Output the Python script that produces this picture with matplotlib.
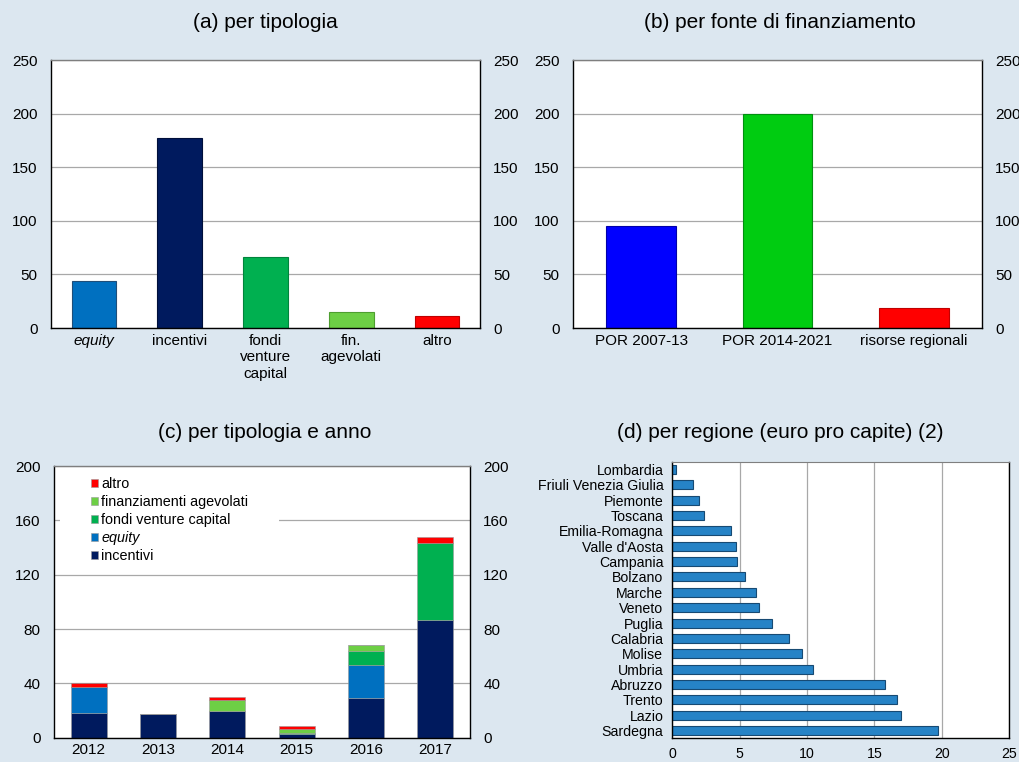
import matplotlib
matplotlib.use("Agg")
import matplotlib.pyplot as plt
from matplotlib.patches import Rectangle
import numpy as np

plt.rcParams['font.family'] = ['Liberation Sans', 'DejaVu Sans']

# ---------------- data ----------------
tipologia_labels = ['equity', 'incentivi', 'fondi\nventure\ncapital', 'fin.\nagevolati', 'altro']
tipologia_values = [43.5, 177, 66, 15, 11]

fonte_labels = ['POR 2007-13', 'POR 2014-2021', 'risorse regionali']
fonte_values = [95, 200, 18.5]

anni = ['2012', '2013', '2014', '2015', '2016', '2017']
incentivi = [18, 17.5, 20, 3, 29.5, 87]
equity = [19, 0, 0, 0, 24, 0]
fondi_vc = [0, 0, 0, 0.7, 10.5, 56]
fin_agevolati = [0, 0, 7.8, 3.0, 4.4, 0]
altro = [3.2, 0, 1.9, 2.2, 0, 4.6]

regioni = ['Lombardia', 'Friuli Venezia Giulia', 'Piemonte', 'Toscana', 'Emilia-Romagna',
           "Valle d'Aosta", 'Campania', 'Bolzano', 'Marche', 'Veneto', 'Puglia', 'Calabria',
           'Molise', 'Umbria', 'Abruzzo', 'Trento', 'Lazio', 'Sardegna']
regioni_values = [0.3, 1.5, 2.0, 2.33, 4.33, 4.7, 4.78, 5.42, 6.19, 6.43, 7.37, 8.68,
                  9.62, 10.46, 15.75, 16.64, 17.0, 19.69]

# ---------------- style ----------------
BG = '#DCE7F0'
NAVY = '#001A5E'
BLUE = '#0070C0'
GREEN = '#00B050'
LGREEN = '#6DCF45'
RED = '#FF0000'
GRID = '#A8A8A8'

fig = plt.figure(figsize=(10.2, 7.62), dpi=100, facecolor=BG)


def style_axes(ax, pad_y=9.5, fs=11):
    ax.set_facecolor('white')
    for s in ['left', 'bottom', 'right']:
        ax.spines[s].set_color('black')
        ax.spines[s].set_linewidth(1.0)
    ax.spines['top'].set_color('#7F7F7F')
    ax.spines['top'].set_linewidth(1.0)
    ax.set_axisbelow(True)
    ax.yaxis.grid(True, color=GRID, linewidth=0.9)
    ax.tick_params(axis='y', which='both', length=0, left=False, right=False,
                   labelleft=True, labelright=True, labelsize=fs, pad=pad_y)
    ax.tick_params(axis='x', length=0, labelsize=fs, pad=4.5)


# ---------------- (a) ----------------
axa = fig.add_axes([51 / 1020, 1 - 328 / 762, 429 / 1020, 268 / 762])
xa = np.arange(len(tipologia_labels))
cols_a = [BLUE, NAVY, GREEN, LGREEN, RED]
edges_a = ['#1F4E79', '#000F3A', '#00843C', '#4E9E30', '#C00000']
axa.bar(xa, tipologia_values, width=0.52, color=cols_a, edgecolor=edges_a, linewidth=0.8)
axa.set_xlim(-0.5, len(xa) - 0.5)
axa.set_ylim(0, 250)
axa.set_yticks([0, 50, 100, 150, 200, 250])
axa.set_xticks(xa)
axa.set_xticklabels(tipologia_labels, linespacing=1.2)
style_axes(axa)
axa.get_xticklabels()[0].set_style('italic')

# ---------------- (b) ----------------
axb = fig.add_axes([573 / 1020, 1 - 328 / 762, 409 / 1020, 268 / 762])
xb = np.arange(len(fonte_labels))
axb.bar(xb, fonte_values, width=0.51, color=['#0000FF', '#00CC11', RED],
        edgecolor=['#0000AA', '#009010', '#C00000'], linewidth=0.8)
axb.set_xlim(-0.5, len(xb) - 0.5)
axb.set_ylim(0, 250)
axb.set_yticks([0, 50, 100, 150, 200, 250])
axb.set_xticks(xb)
axb.set_xticklabels(fonte_labels)
style_axes(axb)

# ---------------- (c) ----------------
axc = fig.add_axes([54 / 1020, 1 - 737.7 / 762, 416 / 1020, 271.7 / 762])
xc = np.arange(len(anni))
series = [('incentivi', incentivi, NAVY), ('equity', equity, BLUE),
          ('fondi venture capital', fondi_vc, GREEN),
          ('finanziamenti agevolati', fin_agevolati, LGREEN), ('altro', altro, RED)]
bottom = np.zeros(len(anni))
handles = []
for name, vals, col in series:
    vals = np.array(vals, dtype=float)
    h = axc.bar(xc, vals, width=0.52, bottom=bottom, color=col,
                edgecolor='#9A9A9A', linewidth=0.4, label=name)
    handles.append(h)
    bottom += vals
axc.set_xlim(-0.5, len(xc) - 0.5)
axc.set_ylim(0, 200)
axc.set_yticks([0, 40, 80, 120, 160, 200])
axc.set_xticks(xc)
axc.set_xticklabels(anni)
style_axes(axc)
axc.tick_params(axis='x', pad=3.5)
axc.add_patch(Rectangle((0.0144, 0.62), 0.527, 0.365, transform=axc.transAxes,
                        facecolor='white', edgecolor='none', zorder=1.5))
leg = axc.legend(handles[::-1], [s[0] for s in series][::-1], loc='upper left',
                 bbox_to_anchor=(0.088, 0.958), frameon=False, fontsize=10.4,
                 handlelength=0.5, handleheight=0.5, handletextpad=0.25,
                 labelspacing=0.27, borderpad=0, borderaxespad=0)
leg.get_texts()[3].set_style('italic')
leg.set_zorder(3)

# ---------------- (d) ----------------
axd = fig.add_axes([672.3 / 1020, 1 - 738.3 / 762, 337 / 1020, 276.6 / 762])
yd = np.arange(len(regioni))
axd.barh(yd, regioni_values, height=0.58, color='#2683C6', edgecolor='#174A73', linewidth=0.8)
axd.set_ylim(len(regioni) - 0.5, -0.5)
axd.set_xlim(0, 25)
axd.set_xticks([0, 5, 10, 15, 20, 25])
axd.set_yticks(yd)
axd.set_yticklabels(regioni)
axd.set_facecolor('white')
for s in ['left', 'bottom', 'right']:
    axd.spines[s].set_color('black')
    axd.spines[s].set_linewidth(1.0)
axd.spines['top'].set_color('#7F7F7F')
axd.set_axisbelow(True)
axd.xaxis.grid(True, color=GRID, linewidth=0.9)
axd.tick_params(axis='y', length=0, labelsize=10.2, pad=6.5)
axd.tick_params(axis='x', length=0, labelsize=10.2, pad=6.5)

# ---------------- titles ----------------
fig.text(265.5 / 1020, 1 - 23 / 762, '(a) per tipologia', ha='center', va='center', fontsize=15)
fig.text(780 / 1020, 1 - 23 / 762, '(b) per fonte di finanziamento', ha='center', va='center', fontsize=15)
fig.text(265 / 1020, 1 - 432 / 762, '(c) per tipologia e anno', ha='center', va='center', fontsize=15)
fig.text(780 / 1020, 1 - 432 / 762, '(d) per regione (euro pro capite) (2)', ha='center', va='center', fontsize=15)

fig.savefig('out.png', dpi=100, facecolor=BG)
